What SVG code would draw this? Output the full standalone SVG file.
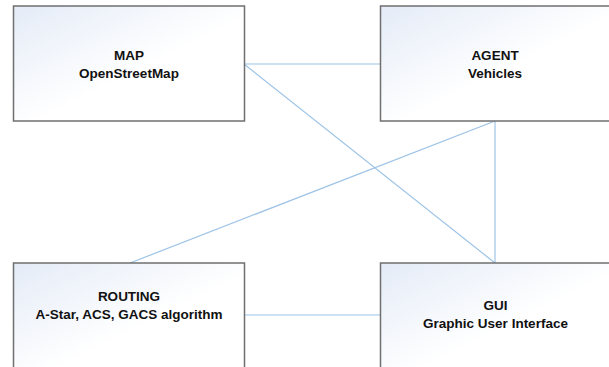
<svg xmlns="http://www.w3.org/2000/svg" width="609" height="367" viewBox="0 0 609 367">
<defs>
<linearGradient id="g" x1="0" y1="0" x2="1" y2="1">
<stop offset="0" stop-color="#e4ebf7"/>
<stop offset="0.55" stop-color="#ffffff"/>
<stop offset="1" stop-color="#ffffff"/>
</linearGradient>
</defs>
<style>
.box{fill:url(#g);stroke:#6f6f6f;stroke-width:1.5}
.t{font-family:"Liberation Sans",Arial,sans-serif;font-weight:bold;font-size:13.5px;fill:#111111;text-anchor:middle}
.c{stroke:#9dc3e6;stroke-width:1.2;fill:none}
</style>
<rect width="609" height="367" fill="#ffffff"/>
<g id="connectors">
<line class="c" x1="244" y1="64" x2="380" y2="64"/>
<line class="c" x1="244" y1="64" x2="495" y2="263"/>
<line class="c" x1="495" y1="121" x2="495" y2="263"/>
<line class="c" x1="495" y1="121" x2="130" y2="263"/>
<line class="c" x1="244" y1="315" x2="380" y2="315"/>
</g>
<g id="map">
<rect class="box" x="13.5" y="6" width="231" height="115"/>
<text class="t" x="129" y="60">MAP</text>
<text class="t" x="129" y="78">OpenStreetMap</text>
</g>
<g id="agent">
<rect class="box" x="380.5" y="6" width="231" height="115"/>
<text class="t" x="495" y="60">AGENT</text>
<text class="t" x="495" y="78">Vehicles</text>
</g>
<g id="routing">
<rect class="box" x="13.5" y="263" width="231" height="115"/>
<text class="t" x="129" y="301">ROUTING</text>
<text class="t" x="129" y="319">A-Star, ACS, GACS algorithm</text>
</g>
<g id="gui">
<rect class="box" x="380.5" y="263" width="231" height="115"/>
<text class="t" x="495.5" y="310">GUI</text>
<text class="t" x="495.5" y="328">Graphic User Interface</text>
</g>
</svg>
